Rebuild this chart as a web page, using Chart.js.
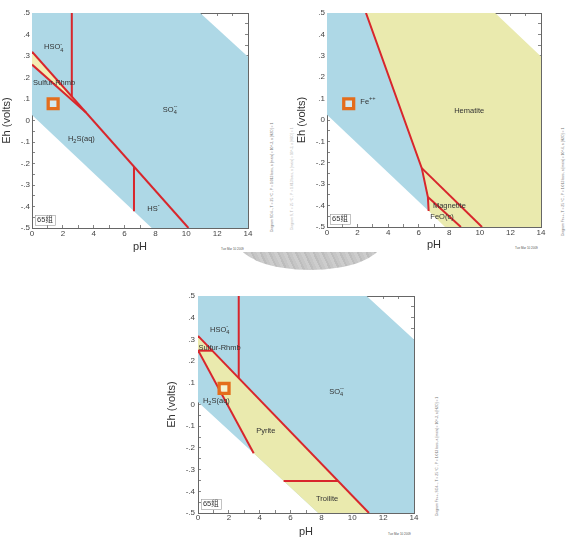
<!DOCTYPE html>
<html>
<head>
<meta charset="utf-8">
<script src="https://cdn.jsdelivr.net/npm/chart.js@4.4.0/dist/chart.umd.min.js"></script>
<style>
  html, body { margin: 0; padding: 0; background: #fff; width: 571px; height: 538px; overflow: hidden; }
  canvas { position: absolute; }
  #seal { position: absolute; left: 238px; top: 252px; width: 144px; height: 19px; overflow: hidden; }
  #seal div { position: absolute; left: 0; top: -39px; width: 144px; height: 57px; border-radius: 50%;
    background: repeating-linear-gradient(65deg, #cdcdcd 0 3px, #bdbdbd 3px 5px, #c6c6c6 5px 8px); }
  .vt { position: absolute; font: 3.4px "Liberation Sans", Arial, sans-serif; color: #777; white-space: nowrap;
    transform-origin: 0 0; transform: rotate(-90deg); }
  .dt { position: absolute; font: 3px "Liberation Sans", Arial, sans-serif; color: #555; white-space: nowrap; }
</style>
</head>
<body>
<div id="seal"><div></div></div>
<div class="vt" style="left:270px;top:232px;">Diagram SO4--, T = 25 °C , P = 1.013 bars, a [main] = 10^-3, a [H2O] = 1</div>
<div class="vt" style="left:290px;top:230px;color:#bbb;">Diagram S, T = 25 °C , P = 1.013 bars, a [main] = 10^-3, a [H2O] = 1</div>
<div class="vt" style="left:561px;top:236px;">Diagram Fe++, T = 25 °C , P = 1.013 bars, a [main] = 10^-6, a [H2O] = 1</div>
<div class="vt" style="left:435px;top:516px;">Diagram Fe++, SO4--, T = 25 °C , P = 1.013 bars, a [main] = 10^-3, a [H2O] = 1</div>
<div class="dt" style="left:221px;top:247px;">Tue Mar 10 2009</div>
<div class="dt" style="left:515px;top:246px;">Tue Mar 10 2009</div>
<div class="dt" style="left:388px;top:532px;">Tue Mar 10 2009</div>

<canvas id="c1" width="290" height="270" style="left:0;top:0;"></canvas>
<canvas id="c2" width="281" height="270" style="left:290px;top:0;"></canvas>
<canvas id="c3" width="300" height="260" style="left:160px;top:283px;"></canvas>

<script>
// ===== 数据 (pH, Eh) =====
// 图 1：S 体系
var s1WaterTop = [[0, 0.5], [10.9, 0.5], [14, 0.297]];
var s1WaterLow = [[0, 0.026], [7.76, -0.5], [14, -0.5]];
var s1SulfurTop = [[0, 0.32], [10.14, -0.5]];
var s1SulfurLow = [[0, 0.26], [3.5, 0.037]];
var s1HSO4Line = [[2.58, 0.5], [2.58, 0.111]];
var s1HSLine = [[6.61, -0.215], [6.61, -0.422]];
var s1Marker = [[1.37, 0.078]];
var s1Notes = [
  ['HSO_{4}^{-}', 1.41, 0.34, 'center'],
  ['Sulfur-Rhmb', 0.07, 0.174, 'left'],
  ['SO_{4}^{--}', 8.95, 0.05, 'center'],
  ['H_{2}S(aq)', 3.2, -0.086, 'center'],
  ['HS^{-}', 7.87, -0.41, 'center'],
  ['65组', 0.33, -0.463, 'box']
];

// 图 2：Fe 体系
var s2WaterTop = [[0, 0.5], [11.0, 0.5], [14, 0.297]];
var s2WaterLow = [[0, 0.025], [6.65, -0.425], [7.72, -0.5], [14, -0.5]];
var s2FeLine = [[2.55, 0.5], [6.2, -0.225], [6.6, -0.36], [6.65, -0.425]];
var s2MagTop = [[6.2, -0.225], [10.14, -0.5]];
var s2MagLow = [[6.6, -0.36], [8.76, -0.5]];
var s2Marker = [[1.42, 0.076]];
var s2Notes = [
  ['Fe^{++}', 2.18, 0.084, 'left'],
  ['Hematite', 9.3, 0.044, 'center'],
  ['Magnetite', 6.93, -0.40, 'left'],
  ['FeO(c)', 6.76, -0.453, 'left'],
  ['65组', 0.33, -0.461, 'box']
];

// 图 3：Fe-S 体系
var s3WaterTop = [[0, 0.5], [10.93, 0.5], [14, 0.3]];
var s3WaterLow = [[0, 0.011], [3.61, -0.225], [7.79, -0.5], [14, -0.5]];
var s3SulfurTop = [[0, 0.316], [11.08, -0.5]];
var s3PyriteLeft = [[0, 0.25], [3.61, -0.225]];
var s3HSO4Line = [[2.64, 0.5], [2.64, 0.122]];
var s3RhmbLine = [[0, 0.248], [0.93, 0.248]];
var s3TroiliteLine = [[5.55, -0.353], [9.08, -0.353]];
var s3Marker = [[1.69, 0.074]];
var s3Notes = [
  ['HSO_{4}^{-}', 1.41, 0.345, 'center'],
  ['Sulfur-Rhmb', 0.04, 0.262, 'left'],
  ['SO_{4}^{--}', 8.98, 0.06, 'center'],
  ['H_{2}S(aq)', 0.32, 0.016, 'left'],
  ['Pyrite', 4.39, -0.122, 'center'],
  ['Troilite', 8.37, -0.435, 'center'],
  ['65组', 0.32, -0.46, 'box']
];

// ===== 样式 =====
var FONT = '"Liberation Sans", Arial, "Noto Sans CJK SC", sans-serif';
var BLUE = '#aed8e6';
var YELLOW = '#eaeaae';
var WEDGE = '#f3edb4';
var RED = '#d8262c';
var ORANGE = '#e46d1c';
var AXIS = '#666';

Chart.defaults.font.family = FONT;
Chart.defaults.color = '#333';

function pts(a) {
  return a.map(function(p) { return { x: p[0], y: p[1] }; });
}

function ehLabel(v) {
  var n = Math.round(v * 100);
  if (n % 10 !== 0) return '';
  if (n === 0) return '0';
  return (n < 0 ? '-' : '') + '.' + Math.abs(n / 10);
}

// ===== 数据集 =====
function boundary(a) {
  return { data: pts(a), borderWidth: 0, borderColor: 'transparent', pointRadius: 0, fill: false, order: 9 };
}
function area(a, target, color, order) {
  return { data: pts(a), borderWidth: 0, borderColor: 'transparent', pointRadius: 0,
    fill: { target: target }, backgroundColor: color, order: order };
}
function redLine(a) {
  return { data: pts(a), borderColor: RED, borderWidth: 2, pointRadius: 0, fill: false, order: 2 };
}
function marker(a) {
  return { data: pts(a), showLine: false, pointStyle: 'rect', pointRadius: 7, borderWidth: 3.3,
    borderColor: ORANGE, backgroundColor: 'rgba(255,255,255,0.45)', order: 1 };
}

// ===== 文字（上下标） =====
function parseRich(str) {
  var runs = [], i = 0, buf = '';
  while (i < str.length) {
    var c = str[i];
    if ((c === '_' || c === '^') && str[i + 1] === '{') {
      if (buf) { runs.push({ t: buf, k: 'n' }); buf = ''; }
      var end = str.indexOf('}', i);
      runs.push({ t: str.slice(i + 2, end), k: c === '_' ? 'sub' : 'sup' });
      i = end + 1;
    } else { buf += c; i++; }
  }
  if (buf) runs.push({ t: buf, k: 'n' });
  return runs;
}

function drawRich(ctx, str, x, y, align, size) {
  var runs = parseRich(str);
  var big = size + 'px ' + FONT, small = (size * 0.75) + 'px ' + FONT;
  var pos = 0, subStart = null, subW = 0, items = [];
  runs.forEach(function(r) {
    ctx.font = r.k === 'n' ? big : small;
    var w = ctx.measureText(r.t).width;
    if (r.k === 'sup' && subStart !== null) {
      items.push({ r: r, x: subStart });
      pos = subStart + Math.max(subW, w);
      subStart = null;
      return;
    }
    items.push({ r: r, x: pos });
    if (r.k === 'sub') { subStart = pos; subW = w; } else subStart = null;
    pos += w;
  });
  var x0 = align === 'center' ? x - pos / 2 : x;
  ctx.textAlign = 'left';
  ctx.textBaseline = 'middle';
  items.forEach(function(it) {
    var dy = it.r.k === 'sub' ? size * 0.35 : (it.r.k === 'sup' ? -size * 0.42 : 0);
    ctx.font = it.r.k === 'n' ? big : small;
    ctx.fillText(it.r.t, x0 + it.x, y + dy);
  });
  return { x: x0, w: pos };
}

function notesPlugin(notes) {
  return {
    id: 'notes',
    afterDatasetsDraw: function(chart) {
      var ctx = chart.ctx, xs = chart.scales.x, ys = chart.scales.y;
      ctx.save();
      ctx.fillStyle = '#333';
      notes.forEach(function(n) {
        var px = xs.getPixelForValue(n[1]), py = ys.getPixelForValue(n[2]);
        var box = drawRich(ctx, n[0], px, py, n[3], 7.5);
        if (n[3] === 'box') {
          ctx.strokeStyle = '#999';
          ctx.lineWidth = 0.6;
          ctx.strokeRect(Math.round(box.x - 2) + 0.5, Math.round(py - 5) + 0.5, Math.round(box.w + 4), 10);
        }
      });
      ctx.restore();
    }
  };
}

// ===== 坐标轴 =====
function gridOpts() {
  return { drawOnChartArea: false, drawTicks: true, tickLength: -3, color: AXIS, lineWidth: 0.8 };
}
function borderOpts() {
  return { display: true, color: AXIS, width: 1 };
}

function makeScales(g) {
  return {
    x: {
      type: 'linear', position: 'bottom', min: 0, max: 14,
      grid: gridOpts(), border: borderOpts(),
      ticks: { stepSize: 1, autoSkip: false, maxRotation: 0, padding: g.xTickPad, font: { size: 8 }, color: '#444',
        callback: function(v) { return v % 2 === 0 ? String(v) : ''; } },
      title: { display: true, text: 'pH', font: { size: 11 }, color: '#333', padding: { top: 0, bottom: g.xTitlePad } },
      afterFit: function(s) { s.height = g.xh; }
    },
    x2: {
      type: 'linear', position: 'top', min: 0, max: 14,
      grid: gridOpts(), border: borderOpts(),
      ticks: { stepSize: 1, autoSkip: false, display: false },
      afterFit: function(s) { s.height = 0; }
    },
    y: {
      type: 'linear', position: 'left', min: -0.5, max: 0.5,
      grid: gridOpts(), border: borderOpts(),
      ticks: { stepSize: 0.05, autoSkip: false, padding: g.yTickPad, font: { size: 8 }, color: '#444', callback: ehLabel },
      title: { display: true, text: 'Eh (volts)', font: { size: 11 }, color: '#333', padding: { top: g.yTitlePad, bottom: 0 } },
      afterFit: function(s) { s.width = g.yw; }
    },
    y2: {
      type: 'linear', position: 'right', min: -0.5, max: 0.5,
      grid: gridOpts(), border: borderOpts(),
      ticks: { stepSize: 0.05, autoSkip: false, display: false },
      afterFit: function(s) { s.width = 0; }
    }
  };
}

function makeDiagram(id, g, datasets, notes) {
  return new Chart(document.getElementById(id), {
    type: 'line',
    data: { datasets: datasets },
    options: {
      responsive: false,
      animation: false,
      layout: { padding: { left: 0, top: g.pt, right: g.pr, bottom: 0 } },
      plugins: { legend: { display: false }, tooltip: { enabled: false } },
      scales: makeScales(g)
    },
    plugins: [notesPlugin(notes)]
  });
}

// ===== 图 1 =====
makeDiagram('c1',
  { pt: 13, pr: 42, yw: 32, xh: 42, xTickPad: 3.5, xTitlePad: 16, yTickPad: 5, yTitlePad: 0 },
  [
    boundary(s1WaterTop),
    area(s1WaterLow, 0, BLUE, 8),
    redLine(s1SulfurTop),
    Object.assign(area(s1SulfurLow, 2, WEDGE, 3), { borderColor: RED, borderWidth: 2 }),
    redLine(s1HSO4Line),
    redLine(s1HSLine),
    marker(s1Marker)
  ], s1Notes);

// ===== 图 2 =====
makeDiagram('c2',
  { pt: 13, pr: 30, yw: 37, xh: 43, xTickPad: 4, xTitlePad: 18, yTickPad: 5, yTitlePad: 5 },
  [
    boundary(s2WaterTop),
    boundary(s2WaterLow),
    area([[0, 0.5]].concat(s2FeLine), 1, BLUE, 8),
    area(s2FeLine.concat(s2WaterLow.slice(2)), 0, YELLOW, 8),
    redLine(s2FeLine),
    redLine(s2MagTop),
    redLine(s2MagLow),
    marker(s2Marker)
  ], s2Notes);

// ===== 图 3 =====
makeDiagram('c3',
  { pt: 13, pr: 46, yw: 38, xh: 30, xTickPad: 2.5, xTitlePad: 4.5, yTickPad: 6, yTitlePad: 5 },
  [
    boundary(s3WaterTop),
    area(s3WaterLow, 0, BLUE, 8),
    redLine(s3SulfurTop),
    area(s3PyriteLeft.concat(s3WaterLow.slice(2)), 2, YELLOW, 7),
    redLine(s3PyriteLeft),
    redLine(s3HSO4Line),
    redLine(s3RhmbLine),
    redLine(s3TroiliteLine),
    marker(s3Marker)
  ], s3Notes);
</script>
</body>
</html>
